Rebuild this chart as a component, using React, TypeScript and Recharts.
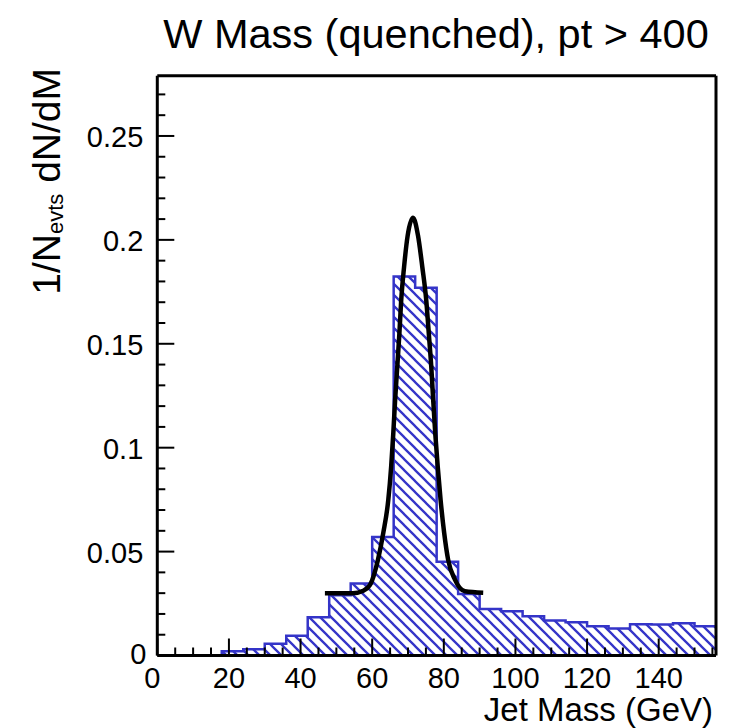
import React from 'react';
import { ComposedChart, Area, Line, XAxis, YAxis, ReferenceLine } from 'recharts';

// ---- data ----
const binEdges = [0, 6, 12, 18, 24, 30, 36, 42, 48, 54, 60, 66, 72, 78, 84, 90, 96, 102, 108, 114, 120, 126, 132, 138, 144, 150];
const binValues = [0, 0, 0, 0.002, 0.003, 0.0056, 0.0095, 0.0184, 0.029, 0.0347, 0.057, 0.1824, 0.177, 0.0451, 0.0296, 0.0224, 0.0213, 0.0189, 0.0168, 0.016, 0.0141, 0.013, 0.015, 0.0149, 0.0155, 0.0141];

const fitMass = [46.8, 54.6, 57.5, 59.4, 61.6, 63.1, 64.5, 65.3, 65.9, 66.4, 67.0, 67.6, 68.1, 68.9, 69.9, 71.4, 72.8, 74.0, 75.1, 75.8, 76.5, 77.0, 77.6, 78.3, 79.1, 80.1, 81.2, 83.1, 85.9, 91.0];
const fitValues = [0.03, 0.03, 0.0312, 0.034, 0.046, 0.059, 0.0749, 0.0909, 0.1071, 0.1229, 0.1389, 0.1551, 0.1709, 0.1869, 0.202, 0.2107, 0.202, 0.1869, 0.1709, 0.1551, 0.1389, 0.1239, 0.1071, 0.0909, 0.0749, 0.059, 0.0461, 0.0365, 0.0309, 0.0302];

const xTicks = [0, 5, 10, 15, 20, 25, 30, 35, 40, 45, 50, 55, 60, 65, 70, 75, 80, 85, 90, 95, 100, 105, 110, 115, 120, 125, 130, 135, 140, 145, 150, 155];
const xLabelled = [0, 20, 40, 60, 80, 100, 120, 140];
const yTicks = [0, 0.01, 0.02, 0.03, 0.04, 0.05, 0.06, 0.07, 0.08, 0.09, 0.1, 0.11, 0.12, 0.13, 0.14, 0.15, 0.16, 0.17, 0.18, 0.19, 0.2, 0.21, 0.22, 0.23, 0.24, 0.25, 0.26, 0.27];
const yLabelled = ['0', '0.05', '0.1', '0.15', '0.2', '0.25'];

const X_MAX = 156;
const Y_MAX = 0.279;

const histData = binEdges
  .map((x, i) => ({ x, h: binValues[i] }))
  .concat([{ x: X_MAX, h: binValues[binValues.length - 1] }]);
const fitData = fitMass.map((x, i) => ({ x, f: fitValues[i] }));

const FONT = '"Liberation Sans", Arial, Helvetica, sans-serif';
const BLUE = '#3434c8';

const XTick = (props: any) => {
  const { x, y, payload } = props;
  const v = payload.value;
  const major = xLabelled.includes(v);
  return (
    <g>
      <line x1={x} x2={x} y1={y} y2={y - (major ? 17 : 8)} stroke="#000" strokeWidth={2} />
      {major && (
        <text x={x + (v === 0 ? -5 : 0)} y={y + 32} textAnchor="middle" fontSize={29} fill="#000" fontFamily={FONT}>
          {String(v)}
        </text>
      )}
    </g>
  );
};

const YTick = (props: any) => {
  const { x, y, payload } = props;
  const v = payload.value;
  const label = String(Math.round(v * 100) / 100);
  const major = yLabelled.includes(label);
  return (
    <g>
      <line x1={x} x2={x + (major ? 17 : 8)} y1={y} y2={y} stroke="#000" strokeWidth={2} />
      {major && (
        <text x={x - (label === '0' ? 11 : 14)} y={y + (label === '0' ? 8 : 11)} textAnchor="end" fontSize={29} fill="#000" fontFamily={FONT}>
          {label}
        </text>
      )}
    </g>
  );
};

export default function App() {
  const W = 734;
  const H = 720;
  return (
    <div style={{ position: 'relative', width: W, height: H }}>
      <ComposedChart width={W} height={H} margin={{ top: 67.7, right: 26, bottom: 42.5, left: 89.3 }}>
        <defs>
          <pattern id="hatch" patternUnits="userSpaceOnUse" width={11} height={11}>
            <path d="M-5.5,-5.5 L16.5,16.5 M-5.5,5.5 L5.5,16.5 M5.5,-5.5 L16.5,5.5" stroke={BLUE} strokeWidth={2.3} />
          </pattern>
        </defs>
        <XAxis
          type="number"
          dataKey="x"
          domain={[0, X_MAX]}
          ticks={xTicks}
          interval={0}
          allowDataOverflow
          tickSize={0}
          tickMargin={0}
          tickLine={false}
          axisLine={{ stroke: '#000', strokeWidth: 3 }}
          tick={<XTick />}
          height={30}
        />
        <YAxis
          type="number"
          domain={[0, Y_MAX]}
          ticks={yTicks}
          interval={0}
          allowDataOverflow
          tickSize={0}
          tickMargin={0}
          tickLine={false}
          axisLine={{ stroke: '#000', strokeWidth: 3 }}
          tick={<YTick />}
          width={60}
        />
        <Line
          data={fitData}
          dataKey="f"
          type="monotone"
          stroke="#000"
          strokeWidth={4.5}
          dot={false}
          isAnimationActive={false}
        />
        <Area
          data={histData}
          dataKey="h"
          type="stepAfter"
          stroke={BLUE}
          strokeWidth={2.5}
          fill="url(#hatch)"
          fillOpacity={1}
          isAnimationActive={false}
        />
        <ReferenceLine y={Y_MAX} stroke="#000" strokeWidth={3} />
        <ReferenceLine x={X_MAX} stroke="#000" strokeWidth={3} />
      </ComposedChart>
      <svg width={W} height={H} style={{ position: 'absolute', left: 0, top: 0, pointerEvents: 'none' }}>
        <text x={428} y={40} textAnchor="middle" fontSize={41.5} fill="#000" fontFamily={FONT}>
          W Mass (quenched), pt &gt; 400
        </text>
        <text x={705} y={713} textAnchor="end" fontSize={33} fill="#000" fontFamily={FONT}>
          Jet Mass (GeV)
        </text>
        <text transform="translate(52,60) rotate(-90)" textAnchor="end" fontSize={39} fill="#000" fontFamily={FONT}>
          1/N
          <tspan fontSize={22} dy={3}>evts</tspan>
          <tspan dy={-3}> dN/dM</tspan>
        </text>
      </svg>
    </div>
  );
}
